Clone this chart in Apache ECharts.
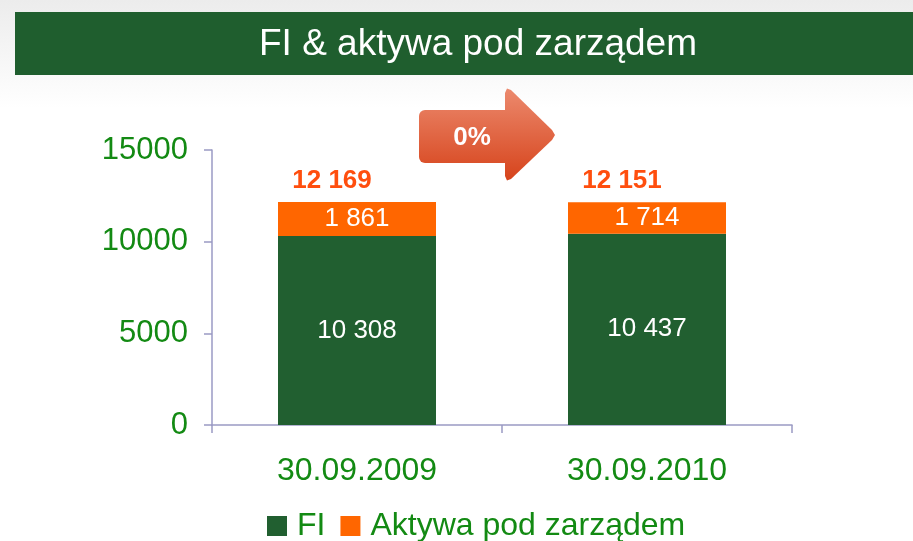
<!DOCTYPE html>
<html>
<head>
<meta charset="utf-8">
<script src="https://cdn.jsdelivr.net/npm/echarts@6/dist/echarts.min.js"></script>
<style>
  html, body { margin: 0; padding: 0; background: #fff; }
  #chart { width: 913px; height: 541px; }
</style>
</head>
<body>
<div id="chart"></div>
<script>
// data
const categories = ['30.09.2009', '30.09.2010'];
const fiValues = [10308, 10437];
const aktywaValues = [1861, 1714];
const totals = [12169, 12151];
const yTicks = { min: 0, max: 15000, interval: 5000 };
const changeLabel = '0%';

const FONT = '"Liberation Sans", Arial, sans-serif';
const DARK_GREEN = '#215f30';
const ORANGE = '#ff6600';
const LABEL_GREEN = '#138a13';
const AXIS_COLOR = '#9a9ac4';

// 10308 -> "10 308"
function spaced(v) {
  return String(v).replace(/\B(?=(\d{3})+(?!\d))/g, ' ');
}

// one gradient in global coords so body and head of the arrow match
function arrowFill() {
  return new echarts.graphic.LinearGradient(0, 88, 0, 181, [
    { offset: 0, color: '#ec8a6e' },
    { offset: 1, color: '#d6431b' }
  ], true);
}

const chart = echarts.init(document.getElementById('chart'));

chart.setOption({
  animation: false,
  backgroundColor: new echarts.graphic.LinearGradient(0, 0, 0, 1, [
    { offset: 0, color: '#ececec' },
    { offset: 0.2, color: '#ffffff' },
    { offset: 1, color: '#ffffff' }
  ]),
  textStyle: { fontFamily: FONT },
  title: {
    text: 'FI & aktywa pod zarządem',
    left: 473,
    top: 21,
    textAlign: 'center',
    textStyle: { color: '#fff', fontSize: 37, fontWeight: 'normal', fontFamily: FONT }
  },
  graphic: [
    // title banner
    {
      type: 'rect',
      z: -1,
      shape: { x: 15, y: 12, width: 898, height: 63 },
      style: { fill: '#1f5e2e' }
    },
    // change arrow: body + head
    {
      type: 'rect',
      shape: { x: 419, y: 110, width: 92, height: 53, r: 6 },
      style: { fill: arrowFill() }
    },
    {
      type: 'polygon',
      shape: {
        points: [[505, 93], [507, 88.5], [511, 90], [552, 130], [555, 135], [552, 140], [511, 179], [507, 180.5], [505, 176]]
      },
      style: { fill: arrowFill() }
    },
    {
      type: 'text',
      x: 472,
      y: 138,
      style: {
        text: changeLabel,
        fill: '#fff',
        font: 'bold 26px ' + FONT,
        align: 'center',
        verticalAlign: 'middle'
      }
    }
  ],
  grid: { left: 212, right: 121, top: 150, bottom: 116 },
  legend: {
    data: ['FI', 'Aktywa pod zarządem'],
    left: 262,
    top: 505,
    itemWidth: 20,
    itemHeight: 20,
    itemGap: 15,
    icon: 'rect',
    textStyle: { color: LABEL_GREEN, fontSize: 32, fontFamily: FONT, padding: [0, 0, 0, 5] }
  },
  xAxis: {
    type: 'category',
    data: categories,
    axisLine: { lineStyle: { color: AXIS_COLOR, width: 1.5 } },
    axisTick: { show: true, length: 8, lineStyle: { color: AXIS_COLOR, width: 1.5 } },
    axisLabel: { color: LABEL_GREEN, fontSize: 32, margin: 30, fontFamily: FONT }
  },
  yAxis: {
    type: 'value',
    min: yTicks.min,
    max: yTicks.max,
    interval: yTicks.interval,
    axisLine: { show: true, lineStyle: { color: AXIS_COLOR, width: 1.5 } },
    axisTick: { show: true, length: 8, lineStyle: { color: AXIS_COLOR, width: 1.5 } },
    splitLine: { show: false },
    axisLabel: { color: LABEL_GREEN, fontSize: 31, margin: 24, fontFamily: FONT, formatter: v => String(v) }
  },
  series: [
    {
      name: 'FI',
      type: 'bar',
      stack: 'total',
      barWidth: 158,
      data: fiValues,
      itemStyle: { color: DARK_GREEN },
      label: {
        show: true,
        position: 'inside',
        color: '#fff',
        fontSize: 26,
        fontFamily: FONT,
        formatter: p => spaced(p.value)
      }
    },
    {
      name: 'Aktywa pod zarządem',
      type: 'bar',
      stack: 'total',
      barWidth: 158,
      data: aktywaValues,
      itemStyle: { color: ORANGE },
      label: {
        show: true,
        position: 'inside',
        color: '#fff',
        fontSize: 26,
        fontFamily: FONT,
        formatter: p => spaced(p.value)
      }
    },
    {
      name: 'Suma',
      type: 'scatter',
      data: totals,
      symbolSize: 1,
      itemStyle: { color: 'rgba(0,0,0,0)', opacity: 1 },
      label: {
        show: true,
        position: 'top',
        distance: 8,
        offset: [-25, 0],
        color: '#ff4e0e',
        opacity: 1,
        fontSize: 26,
        fontWeight: 'bold',
        fontFamily: FONT,
        formatter: p => spaced(p.value)
      }
    }
  ]
});
</script>
</body>
</html>
